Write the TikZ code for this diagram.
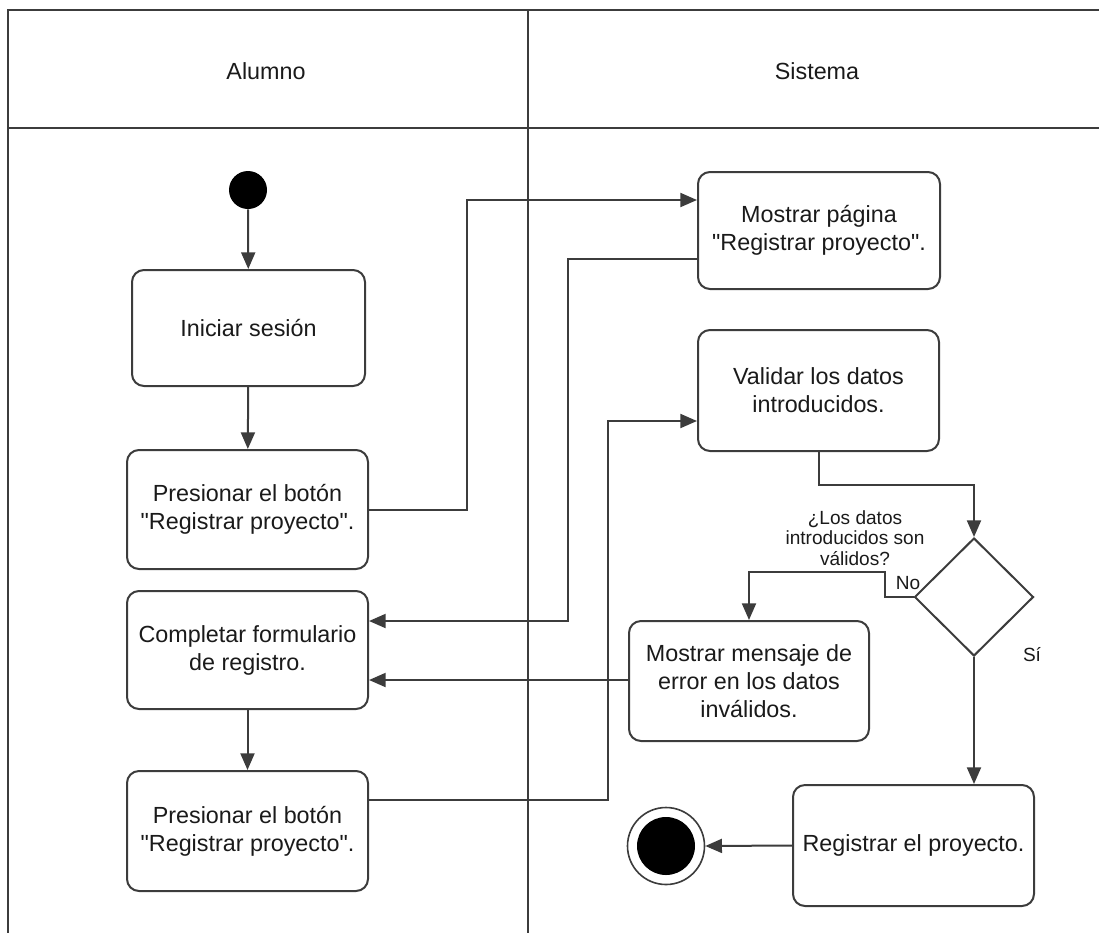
\documentclass[tikz,border=0pt]{standalone}
\usepackage{fontspec}
\newfontfamily\lsans{Liberation Sans}
\usetikzlibrary{arrows.meta,shapes.geometric,calc}
\definecolor{ln}{HTML}{3C3C3C}
\definecolor{tx}{HTML}{1A1A1A}
\begin{document}
\begin{tikzpicture}[x=0.75pt,y=-0.75pt,
  act/.style={draw=ln,line width=1.5pt,rounded corners=9pt,fill=white,align=center,text=tx,font=\lsans\fontsize{17.5}{21}\selectfont,inner sep=0pt},
  arr/.style={draw=ln,line width=1.5pt,-{Triangle[length=12.5pt,width=10.5pt]}},
  lbl/.style={text=tx,font=\lsans\fontsize{14.3}{15.4}\selectfont,align=center,inner sep=0pt},
  hdr/.style={text=tx,font=\lsans\fontsize{17.5}{21}\selectfont,inner sep=0pt},
  lane/.style={draw=ln,line width=2pt}]
\useasboundingbox (0,0) rectangle (1099,933);
% swimlanes
\draw[lane] (1099,10) -- (8,10) -- (8,933);
\draw[lane] (8,128) -- (1099,128);
\draw[lane] (528,10) -- (528,933);
\node[hdr] (h1) at (266,71) {Alumno};
\node[hdr] (h2) at (817,71) {Sistema};
% nodes
\node[circle,fill=black,minimum size=28.5pt,inner sep=0pt] (start) at (248,190) {};
\node[act,minimum width=174.75pt,minimum height=87pt] (ini) at (248.5,328) {Iniciar sesión};
\node[act,minimum width=180.75pt,minimum height=89.25pt] (pres1) at (247.5,509.5) {Presionar el botón\\"Registrar proyecto".};
\node[act,minimum width=180.75pt,minimum height=88.5pt] (comp) at (247.5,650) {Completar formulario\\de registro.};
\node[act,minimum width=180.75pt,minimum height=90pt] (pres2) at (247.5,831) {Presionar el botón\\"Registrar proyecto".};
\node[act,minimum width=181.5pt,minimum height=87.75pt] (mp) at (819,230.5) {Mostrar página\\"Registrar proyecto".};
\node[act,minimum width=180.75pt,minimum height=90.75pt] (val) at (818.5,390.5) {Validar los datos\\introducidos.};
\node[act,minimum width=180pt,minimum height=90pt] (msg) at (749,681) {Mostrar mensaje de\\error en los datos\\inválidos.};
\node[act,minimum width=180.75pt,minimum height=90.75pt] (reg) at (913.5,845.5) {Registrar el proyecto.};
\node[diamond,draw=ln,line width=1.5pt,fill=white,minimum width=89.25pt,minimum height=88.5pt,inner sep=0pt] (dec) at (974,597) {};
\node[circle,draw=ln,line width=1.2pt,minimum size=57.75pt,inner sep=0pt] (fin) at (666,846) {};
\node[circle,fill=black,minimum size=43.5pt,inner sep=0pt] (finin) at (fin.center) {};
% labels
\node[lbl] (q) at (855,538) {¿Los datos\\introducidos son\\válidos?};
\node[lbl] (no) at (908,583) {No};
\node[lbl] (si) at (1032,655) {Sí};
% waypoints
\coordinate (a1) at (467,200);
\coordinate (b1) at (568,259);
\coordinate (b2) at (568,621);
\coordinate (c1) at (608,800);
\coordinate (c2) at (608,421);
\coordinate (d1) at (818.5,485);
\coordinate (e1) at (885,572);
\coordinate (f1) at (0,680);
% connectors
\draw[arr] (start) -- (ini);
\draw[arr] (ini) -- (pres1);
\draw[arr] (comp) -- (pres2);
\draw[arr] (pres1.east) -| (a1) -- (a1 -| mp.west);
\draw[arr] (b1 -| mp.west) -- (b1) -- (b2) -- (b2 -| comp.east);
\draw[arr] (c1 -| pres2.east) -- (c1) -- (c2) -- (c2 -| val.west);
\draw[arr] (val.south) -- (d1) -| (dec.north);
\draw[arr] (dec.west) -| (e1) -| (msg.north);
\draw[arr] (msg.west |- f1) -- (comp.east |- f1);
\draw[arr] (dec.south) -- (dec.south |- reg.north);
\draw[arr] (reg.west) -- (fin.east);
\end{tikzpicture}
\end{document}
